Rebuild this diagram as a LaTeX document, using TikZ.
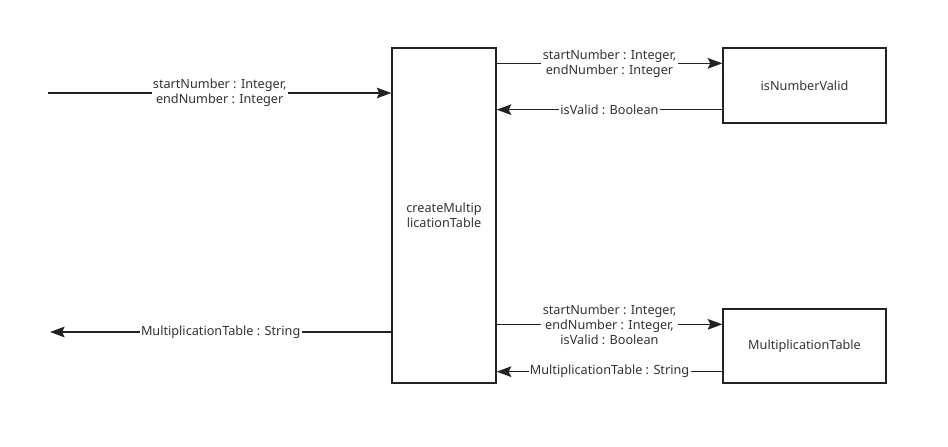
\documentclass[tikz,border=0pt]{standalone}
\usepackage{fontspec}
\setmainfont{Noto Sans}
\usetikzlibrary{arrows.meta}
\definecolor{trait}{HTML}{222222}
\definecolor{texte}{HTML}{333333}

\begin{document}
\begin{tikzpicture}[x=0.75pt, y=-0.75pt]
\tikzset{boite/.style={draw=trait, line width=1pt, inner sep=0pt, align=center, text=texte, font=\fontsize{9.5}{11.25}\selectfont}}
\tikzset{fleche/.style={draw=trait, line width=1pt, -{Stealth[length=11pt, width=8pt, inset=2pt]}}}
\tikzset{etiq/.style={fill=white, inner sep=1pt, align=center, text=texte, font=\fontsize{9.5}{11.25}\selectfont}}
\useasboundingbox (0,0) rectangle (948,446);
\node[boite, minimum width=78pt, minimum height=251.25pt] (main) at (444,215.5) {createMultip\\licationTable};
\node[boite, minimum width=122.25pt, minimum height=56.25pt] (valid) at (804.5,85.5) {isNumberValid};
\node[boite, minimum width=122.25pt, minimum height=55.5pt] (tab) at (804.5,346) {MultiplicationTable};
\coordinate (entree) at (48,93);
\coordinate (sortie) at (50,332);
\coordinate (v1) at ([yshift=-12pt]valid.north west);
\coordinate (v2) at ([yshift=10.5pt]valid.south west);
\coordinate (t1) at ([yshift=-12pt]tab.north west);
\coordinate (t2) at ([yshift=9pt]tab.south west);
\draw[fleche] (entree) -- node[etiq] {startNumber : Integer,\\endNumber : Integer} (main.west |- entree);
\draw[fleche] (main.west |- sortie) -- node[etiq] {MultiplicationTable : String} (sortie);
\draw[fleche] (main.east |- v1) -- node[etiq] {startNumber : Integer,\\endNumber : Integer} (v1);
\draw[fleche] (v2) -- node[etiq] {isValid : Boolean} (main.east |- v2);
\draw[fleche] (main.east |- t1) -- node[etiq] {startNumber : Integer,\\endNumber : Integer,\\isValid : Boolean} (t1);
\draw[fleche] (t2) -- node[etiq] {MultiplicationTable : String} (main.east |- t2);
\end{tikzpicture}
\end{document}
